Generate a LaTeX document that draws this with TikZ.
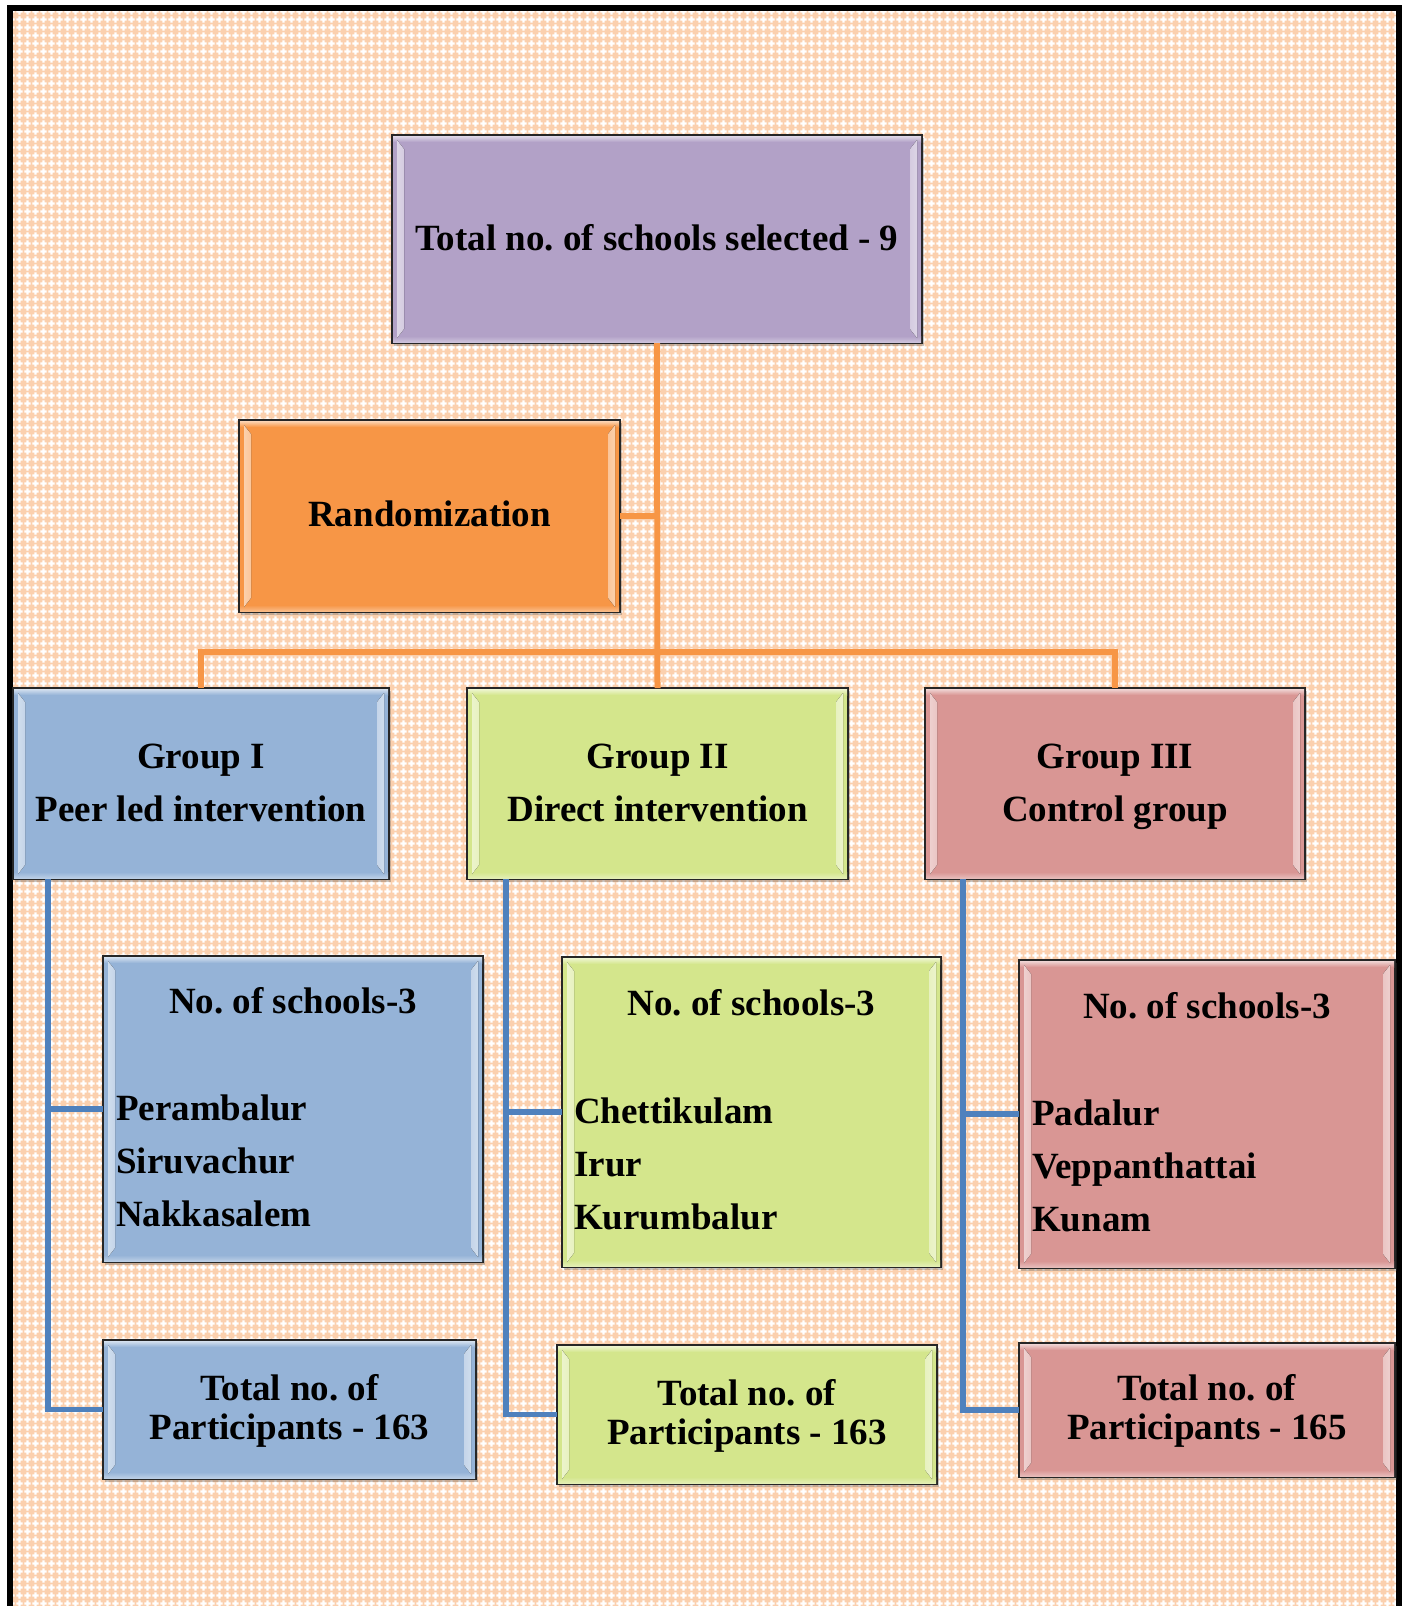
\documentclass[tikz,border=0pt]{standalone}
\usepackage{fontspec}
\setmainfont{Liberation Serif}
\usetikzlibrary{calc,shadows,patterns}
\frenchspacing
\definecolor{cpurple}{HTML}{B2A1C7}
\definecolor{corange}{HTML}{F79646}
\definecolor{cblue}{HTML}{95B3D7}
\definecolor{cgreen}{HTML}{D4E68C}
\definecolor{cred}{HTML}{D99694}
\definecolor{lorange}{HTML}{F79646}
\definecolor{lblue}{HTML}{4F81BD}
\definecolor{peach}{HTML}{FBD0AE}
\pgfdeclarepatternformonly{peachx}{\pgfqpoint{0pt}{0pt}}{\pgfqpoint{8pt}{8pt}}{\pgfqpoint{8pt}{8pt}}{%
  \pgfpathrectangle{\pgfqpoint{0.5pt}{2.8pt}}{\pgfqpoint{7pt}{2.4pt}}%
  \pgfpathrectangle{\pgfqpoint{2.8pt}{0.5pt}}{\pgfqpoint{2.4pt}{7pt}}%
  \pgfusepath{fill}}
\tikzset{
  box/.style={rectangle, draw=black!85, line width=1.4pt, fill=#1, anchor=north west,
    inner sep=0pt, outer sep=0pt, align=center,
    drop shadow={shadow xshift=1.5pt, shadow yshift=-2.5pt, opacity=0.3, fill=black!70}},
  big/.style={font=\fontsize{37}{53}\selectfont\bfseries},
  tot/.style={font=\fontsize{37}{39}\selectfont\bfseries},
  oline/.style={draw=lorange, line width=6pt},
  bline/.style={draw=lblue, line width=5.5pt},
}
\newcommand\bevel[2]{%
  \fill[top color=#2!40!white, bottom color=#2] ($(#1.north west)+(1,1)$) rectangle ($(#1.north east)+(-1,7)$);
  \fill[top color=#2, bottom color=#2!65!white] ($(#1.south west)+(1,-7)$) rectangle ($(#1.south east)+(-1,-1)$);
  \fill[left color=#2!45!white, middle color=white, right color=#2!55!white]
    ($(#1.north west)+(5,5)$) -- ($(#1.north west)+(12,14)$) -- ($(#1.south west)+(12,-14)$) -- ($(#1.south west)+(5,-5)$) -- cycle;
  \fill[left color=#2!55!white, middle color=white, right color=#2!45!white]
    ($(#1.north east)+(-5,5)$) -- ($(#1.north east)+(-12,14)$) -- ($(#1.south east)+(-12,-14)$) -- ($(#1.south east)+(-5,-5)$) -- cycle;
}
\begin{document}
\begin{tikzpicture}[x=1pt,y=-1pt]
\useasboundingbox (0,0) rectangle (1403,1606);
% background
\fill[peach] (13,11) rectangle (1396,1606);
\fill[pattern=peachx, pattern color=white] (13,11) rectangle (1396,1606);
\draw[line width=6pt] (10,1620) -- (10,7.5) -- (1398.5,7.5) -- (1398.5,1620);

% nodes (boxes)
\node[box=cpurple, minimum width=530, minimum height=208] (top) at (392,135) {};
\node[box=corange, minimum width=381, minimum height=192] (rand) at (239,420) {};
\node[box=cblue,  minimum width=376, minimum height=191] (g1) at (13,688) {};
\node[box=cgreen, minimum width=381, minimum height=191] (g2) at (467,688) {};
\node[box=cred,   minimum width=380, minimum height=191] (g3) at (925,688) {};
\node[box=cblue,  minimum width=380, minimum height=306] (s1) at (103,956) {};
\node[box=cgreen, minimum width=379, minimum height=310] (s2) at (562,957) {};
\node[box=cred,   minimum width=376, minimum height=308] (s3) at (1019,960) {};
\node[box=cblue,  minimum width=373, minimum height=139] (t1) at (103,1340) {};
\node[box=cgreen, minimum width=380, minimum height=139] (t2) at (557,1345) {};
\node[box=cred,   minimum width=376, minimum height=134] (t3) at (1019,1343) {};

\bevel{top}{cpurple}
\bevel{rand}{corange}
\bevel{g1}{cblue}\bevel{g2}{cgreen}\bevel{g3}{cred}
\bevel{s1}{cblue}\bevel{s2}{cgreen}\bevel{s3}{cred}
\bevel{t1}{cblue}\bevel{t2}{cgreen}\bevel{t3}{cred}

% orange connectors
\coordinate (hb) at ($(top.south)!0.895!(g2.north)$);
\draw[oline] (top.south) -- (g2.north);
\draw[oline] (rand.east) -- (rand.east -| top.south);
\draw[oline] (g1.north) |- (hb) -| (g3.north);

% blue connectors
\coordinate (v1) at ($(g1.south west)+(35,0)$);
\coordinate (v2) at ($(g2.south west)+(39,0)$);
\coordinate (v3) at ($(g3.south west)+(38,0)$);
\draw[bline] (v1) |- (t1.west);
\draw[bline] (v1 |- s1.west) -- (s1.west);
\draw[bline] (v2) |- (t2.west);
\draw[bline] (v2 |- s2.west) -- (s2.west);
\draw[bline] (v3) |- (t3.west);
\draw[bline] (v3 |- s3.west) -- (s3.west);

% texts
\node[big] (toptxt) at ($(top.center)+(0,-1)$) {Total no. of schools selected - 9};
\node[big] (randtxt) at ($(rand.center)+(0,-2)$) {Randomization};
\node[big, align=center] (g1txt) at ($(g1.center)+(0,-1)$) {Group I\\Peer led intervention};
\node[big, align=center] (g2txt) at ($(g2.center)+(0,-1)$) {Group II\\Direct intervention};
\node[big, align=center] (g3txt) at ($(g3.center)+(0,3)$) {Group III\\Control group};

\node[big] (s1h) at ($(s1.north)+(0,45)$) {No. of schools-3};
\node[big] (s2h) at ($(s2.north)+(0,46)$) {No. of schools-3};
\node[big] (s3h) at ($(s3.north)+(0,46)$) {No. of schools-3};
\node[big, align=left, anchor=west, inner sep=0pt] (s1n) at ($(s1.west)+(13,52)$) {Perambalur\\Siruvachur\\Nakkasalem};
\node[big, align=left, anchor=west, inner sep=0pt] (s2n) at ($(s2.west)+(12,52)$) {Chettikulam\\Irur\\Kurumbalur};
\node[big, align=left, anchor=west, inner sep=0pt] (s3n) at ($(s3.west)+(13,52)$) {Padalur\\Veppanthattai\\Kunam};

\node[tot, align=center] (t1txt) at ($(t1.center)+(0,1)$) {Total no. of\\Participants - 163};
\node[tot, align=center] (t2txt) at ($(t2.center)+(0,1)$) {Total no. of\\Participants - 163};
\node[tot, align=center] (t3txt) at ($(t3.center)+(0,1)$) {Total no. of\\Participants - 165};
\end{tikzpicture}
\end{document}
